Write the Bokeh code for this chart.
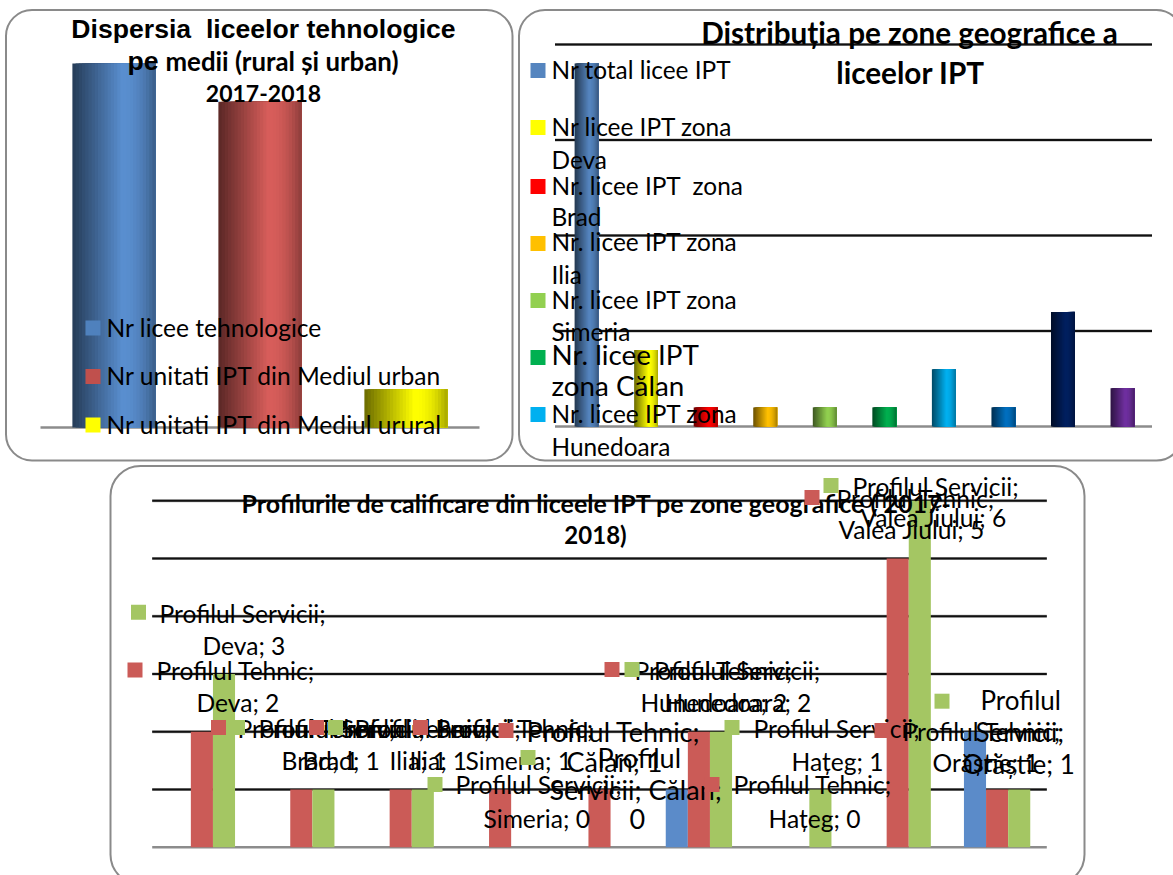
from bokeh.plotting import figure
from bokeh.layouts import column, row
from bokeh.models import Range1d, BoxAnnotation
from bokeh.core.properties import value
from bokeh.embed import file_html
from bokeh.resources import INLINE

# ---------- data ----------
disp_names = ["Nr licee tehnologice", "Nr unitati IPT din Mediul urban", "Nr unitati IPT din Mediul urural"]
disp_values = [19, 17, 2]

zone_names = ["Nr total licee IPT", "Nr licee IPT zona Deva", "Nr. licee IPT  zona Brad", "Nr. licee IPT zona Ilia",
              "Nr. licee IPT zona Simeria", "Nr. licee IPT zona Călan", "Nr. licee IPT zona Hunedoara",
              "Nr. licee IPT zona Hațeg", "Nr. licee IPT zona Valea Jiului", "Nr. licee IPT zona Orăștie"]
zone_values = [19, 4, 1, 1, 1, 1, 3, 1, 6, 2]
zone_ticks = [0, 5, 10, 15, 20]

prof_zones = ["Deva", "Brad", "Ilia", "Simeria", "Călan", "Hunedoara", "Hațeg", "Valea Jiului", "Orăștie"]
prof_series = ["Profilul Resurse", "Profilul Tehnic", "Profilul Servicii"]
prof_resurse = [0, 0, 0, 0, 0, 1, 0, 0, 2]
prof_tehnic = [2, 1, 1, 1, 1, 2, 0, 5, 1]
prof_servicii = [3, 1, 1, 0, 0, 2, 1, 6, 1]
prof_ticks = [0, 1, 2, 3, 4, 5, 6]

# ---------- styles ----------
BODY = "Lato"
ARIAL = "'Liberation Sans', Arial, sans-serif"
BORDER = "#8a8a8a"
disp_colors = ["#5a8fd0", "#d85e5b", "#ffff00"]
disp_keys = ["#4f81bd", "#c0504d", "#ffff00"]
zone_colors = ["#5585bf", "#ffff00", "#ff0000", "#ffc000", "#92d050", "#00b050", "#00b0f0", "#0070c0", "#002060", "#7030a0"]
zone_keys = zone_colors
prof_colors = ["#5b8bc9", "#cb5b57", "#a4c663"]

CONV = {}


def X(p, px):
    return (px - CONV[p.id][0]) / CONV[p.id][1]


def Y(p, py):
    return (CONV[p.id][2] - py) / CONV[p.id][3]


def mix(c, f):
    r, g, b = [int(c[i:i + 2], 16) for i in (1, 3, 5)]
    return "#%02x%02x%02x" % (int(r * f), int(g * f), int(b * f))


def make(x0_page, y0_page, w, h, cat0, cat_step, base_y, unit):
    """Figure whose frame covers the page box; category i sits at cat0 + i*cat_step, value v at base_y - v*unit."""
    p = figure(width=w, height=h, output_backend="svg", toolbar_location=None, min_border=0,
               x_range=Range1d((x0_page - cat0) / cat_step, (x0_page + w - cat0) / cat_step),
               y_range=Range1d((base_y - (y0_page + h)) / unit, (base_y - y0_page) / unit),
               x_axis_location=None, y_axis_location=None, outline_line_color=None, margin=0)
    p.grid.visible = False
    p.background_fill_color = None
    p.border_fill_color = None
    CONV[p.id] = (cat0, cat_step, base_y, unit)
    return p


def panel(p, l, r, t, b, radius):
    p.add_layout(BoxAnnotation(left=X(p, l), right=X(p, r), top=Y(p, t), bottom=Y(p, b), fill_alpha=0,
                               line_color=BORDER, line_alpha=1, line_width=2, border_radius=radius,
                               level="underlay"))


def rules(p, ticks, l, r):
    xs0, xs1 = [X(p, l)] * len(ticks), [X(p, r)] * len(ticks)
    p.segment(xs0[1:], ticks[1:], xs1[1:], ticks[1:], line_color="#a8a8a8", line_width=3)
    p.segment(xs0[1:], ticks[1:], xs1[1:], ticks[1:], line_color="#111111", line_width=2)
    p.segment(xs0[:1], ticks[:1], xs1[:1], ticks[:1], line_color="#8c8c8c", line_width=2.5)


def shaded_bars(p, vals, colors, width, n=26):
    # drawn left to right; every slice reaches the bar's right edge so no seams show
    for i, (v, c) in enumerate(zip(vals, colors)):
        for k in range(n):
            t0, t = k / n, (k + 0.5) / n
            f = 0.42 + 0.58 * (t / 0.6) if t < 0.6 else 1 - 0.35 * ((t - 0.6) / 0.4) ** 2
            p.quad(left=[i - width / 2 + width * t0], right=[i + width / 2], top=[v], bottom=[0],
                   color=mix(c, f), line_color=None)


def txt(p, s, x, y, size, font=BODY, bold=False, align="left"):
    p.text([X(p, x - 1)], [Y(p, y - 1)], text=[s], text_font=value(font), text_font_size=f"{size}px",
           text_font_style="bold" if bold else "normal", text_color="#000000",
           text_align=align, text_baseline="middle")


def key(p, x, y, color, s=15):
    p.rect([X(p, x)], [Y(p, y)], width=s, height=s, width_units="screen", height_units="screen",
           fill_color=color, line_color=None)


# ---------- panel 1 ----------
p1 = make(0, 0, 515, 463, 113.5, 146, 427, 19.16)
panel(p1, 5.5, 512, 9.5, 460, 26)
rules(p1, [0], 40, 479)
shaded_bars(p1, disp_values, disp_colors, 0.57)
txt(p1, "Dispersia \u00a0liceelor tehnologice", 264, 29, 26.6, ARIAL, True, "center")
txt(p1, "pe", 128, 61, 26.6, ARIAL, True)
txt(p1, "medii (rural și urban)", 166, 61, 25.8, BODY, True)
txt(p1, "2017-2018", 264, 94, 23, BODY, True, "center")
for name, color, y in zip(disp_names, disp_keys, [327.5, 376, 424.5]):
    key(p1, 92.5, y, color)
    txt(p1, name, 107, y, 24.6)

# ---------- panel 2 ----------
p2 = make(515, 0, 658, 463, 586, 59.55, 426, 19.1)
panel(p2, 518.5, 1182, 9.5, 460, 26)
rules(p2, zone_ticks, 554.5, 1151.5)
shaded_bars(p2, zone_values, zone_colors, 0.4)
txt(p2, "Distribuția pe zone geografice a", 910, 33, 29.7, BODY, True, "center")
txt(p2, "liceelor IPT", 911, 73, 29.7, BODY, True, "center")
# legend: (zone index, key y, size, [(first word, last word, text y)])
legend2 = [(0, 70, 24.4, [(0, 4, 70)]),
           (1, 127, 24.4, [(0, 4, 127), (4, 5, 160)]),
           (2, 186, 24.4, [(0, 4, 186), (4, 5, 217)]),
           (3, 243, 24.4, [(0, 4, 242), (4, 5, 275)]),
           (4, 300, 24.4, [(0, 4, 300), (4, 5, 332)]),
           (5, 357, 27.8, [(0, 3, 355), (3, 5, 386)]),
           (6, 414, 24.4, [(0, 4, 414), (4, 5, 447)])]
for idx, ky, size, lines in legend2:
    key(p2, 537.5, ky, zone_keys[idx])
    words = zone_names[idx].split(" ")
    if idx == 2:
        words = ["Nr.", "licee", "IPT", "\u00a0zona", "Brad"]
    for a, b, y in lines:
        txt(p2, " ".join(words[a:b]), 552, y, size)

# ---------- panel 3 ----------
p3 = make(0, 463, 1173, 412, 201.4, 99.4, 846.7, 57.75)
panel(p3, 110, 1084, 465.5, 884, 30)
rules(p3, prof_ticks, 151.7, 1046.3)
bar_w = 22.1 / 99.4
for j, (vals, col) in enumerate(zip([prof_resurse, prof_tehnic, prof_servicii], prof_colors)):
    xs = [i + (j - 1) * bar_w for i in range(len(prof_zones))]
    p3.vbar(x=xs, width=bar_w, top=vals, bottom=0, color=col, line_color=None)
txt(p3, "Profilurile de calificare din liceele IPT pe zone geografice ( 2017-", 597, 503, 25, BODY, True, "center")
txt(p3, "2018)", 596, 535, 24, BODY, True, "center")

series_vals = {1: prof_tehnic, 2: prof_servicii}
# (series, zone, key x, key y, size, words per line, [(left x, y) per line])
labels3 = [
    (2, 0, 138, 611.7, 24.6, (2, 2), [(160, 614), (203, 646)]),
    (1, 0, 134.5, 669.5, 24.6, (2, 2), [(157, 671), (197, 703)]),
    (1, 1, 218, 727, 24.6, (2, 2), [(238, 729), (282, 761)]),
    (2, 1, 237, 727, 24.6, (2, 2), [(259, 729), (303, 761)]),
    (1, 2, 316, 727, 24.6, (2, 2), [(333, 729), (390, 761)]),
    (2, 2, 335, 727, 24.6, (2, 2), [(355, 729), (410, 761)]),
    (1, 3, 420, 727, 24.6, (2, 2), [(436, 729), (466, 761)]),
    (2, 3, 434.5, 784, 24.6, (2, 2), [(456, 785), (484, 819)]),
    (1, 4, 505.5, 730, 27, (2, 2), [(527, 732), (567, 762)]),
    (2, 4, 527.5, 757, 27, (1, 2, 1), [(598, 758), (550, 790), (630, 819)]),
    (1, 5, 611.5, 669, 24.6, (2, 2), [(635, 671), (641, 703)]),
    (2, 5, 631.5, 669, 24.6, (2, 2), [(654.5, 671), (665, 703)]),
    (1, 6, 711.5, 784, 24.6, (2, 2), [(734, 785), (769, 819)]),
    (2, 6, 731.5, 727, 24.6, (2, 2), [(754, 729), (792, 762)]),
    (1, 7, 811.5, 497, 24.6, (2, 3), [(837, 499), (839, 530)]),
    (2, 7, 830.5, 485, 24.6, (2, 3), [(853, 487), (861, 518)]),
    (1, 8, 881.5, 730, 24.6, (2, 2), [(903, 732), (933, 763)]),
    (2, 8, 941.5, 700.7, 26, (1, 1, 2), [(981, 700), (976, 732), (963, 764)]),
]
for s, z, kx, ky, size, counts, places in labels3:
    key(p3, kx, ky, prof_colors[s])
    words = f"{prof_series[s]}; {prof_zones[z]}; {series_vals[s][z]}".split(" ")
    i = 0
    for n, (x, y) in zip(counts, places):
        txt(p3, " ".join(words[i:i + n]), x, y, size)
        i += n

page = column(row(p1, p2, spacing=0, margin=0), p3, spacing=0, margin=0)
open("out.html", "w").write(file_html(page, INLINE))
